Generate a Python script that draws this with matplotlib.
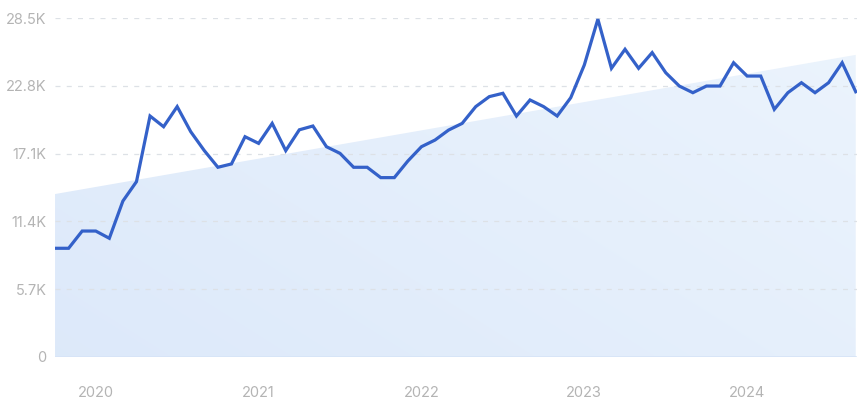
import numpy as np
import pandas as pd
import matplotlib
matplotlib.use("Agg")
import matplotlib.pyplot as plt
from matplotlib.patches import Polygon

# ── Data (thousands) ─────────────────────────────────────────────────────────
months = pd.date_range("2019-10-01", "2024-09-01", freq="MS")
values = [
    9.14, 9.14, 10.59,
    10.59, 9.98, 13.11, 14.74, 20.26, 19.36, 21.05, 18.94, 17.35, 15.95, 16.23, 18.52,
    17.96, 19.64, 17.35, 19.10, 19.42, 17.68, 17.12, 15.95, 15.95, 15.08, 15.08, 16.48,
    17.68, 18.24, 19.08, 19.64, 21.05, 21.89, 22.17, 20.26, 21.61, 21.05, 20.26, 21.80,
    24.55, 28.40, 24.27, 25.87, 24.27, 25.59, 23.90, 22.78, 22.22, 22.78, 22.78, 24.74,
    23.62, 23.62, 20.82, 22.22, 23.06, 22.22, 23.06, 24.74, 22.30,
]
trend_start = 13.7
trend_end = 25.4
y_ticks = [0, 5.7, 11.4, 17.1, 22.8, 28.5]
y_labels = ["0", "5.7K", "11.4K", "17.1K", "22.8K", "28.5K"]
years = [2020, 2021, 2022, 2023, 2024]

plt.rcParams["font.family"] = ["Inter", "DejaVu Sans"]

fig = plt.figure(figsize=(8.64, 4.0), dpi=100, facecolor="white")
ax = fig.add_axes([0.0637, 0.1075, 0.9283, 0.8475])

x = np.arange(len(values))
x0, x1 = x[0], x[-1]

# ── Trend area with soft gradient ────────────────────────────────────────────
poly = Polygon([(x0, 0), (x0, trend_start), (x1, trend_end), (x1, 0)],
               closed=True, facecolor="none", edgecolor="none")
ax.add_patch(poly)
gx, gy = np.meshgrid(np.linspace(0, 1, 200), np.linspace(0, 1, 100))
t = np.clip(0.6 * gx + 0.4 * (1 - gy), 0, 1)
c_a = np.array([0.866, 0.914, 0.980])
c_b = np.array([0.925, 0.957, 0.992])
img = c_a[None, None, :] * (1 - t[..., None]) + c_b[None, None, :] * t[..., None]
im = ax.imshow(img, extent=[x0, x1, 0, 28.5], origin="upper", aspect="auto",
               zorder=1, interpolation="bilinear")
im.set_clip_path(poly)
ax.plot([x0, x1], [0, 0], color="#d6e4f7", linewidth=1.2, zorder=2)

# ── Grid ─────────────────────────────────────────────────────────────────────
for yt in y_ticks[1:]:
    ax.axhline(yt, color="#dde1e6", linewidth=0.9, linestyle=(0, (4, 5)), zorder=1.5)

# ── Series ───────────────────────────────────────────────────────────────────
ax.plot(x, values, color="#3461c9", linewidth=2.3, zorder=4,
        solid_joinstyle="miter")

# ── Axes ─────────────────────────────────────────────────────────────────────
ax.set_xlim(x0, x1 + 0.1)
ax.set_ylim(0, 28.5)
ax.set_yticks(y_ticks)
ax.set_yticklabels(y_labels)
year_pos = [(pd.Timestamp(f"{y}-01-01").to_period("M") - months[0].to_period("M")).n
            for y in years]
ax.set_xticks(year_pos)
ax.set_xticklabels([str(y) for y in years])
ax.tick_params(axis="both", length=0, labelsize=10.5, labelcolor="#b4b4b4")
ax.tick_params(axis="y", pad=6)
ax.tick_params(axis="x", pad=21)
for s in ax.spines.values():
    s.set_visible(False)
ax.set_facecolor("white")

fig.savefig("out.png", dpi=100, facecolor="white")
